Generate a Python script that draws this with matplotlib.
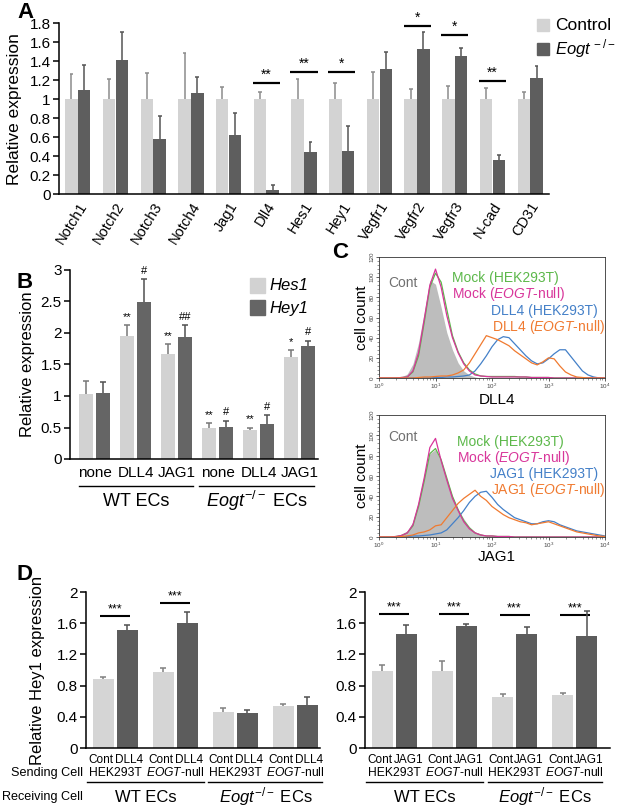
import numpy as np
import matplotlib
matplotlib.use('Agg')
import matplotlib.pyplot as plt
from matplotlib.transforms import blended_transform_factory as btf
from matplotlib.ticker import FuncFormatter, LogLocator, NullFormatter, FixedLocator

plt.rcParams['font.family'] = ['Liberation Sans', 'DejaVu Sans']
plt.rcParams['mathtext.fontset'] = 'custom'
plt.rcParams['mathtext.rm'] = 'Liberation Sans'
plt.rcParams['mathtext.it'] = 'Liberation Sans:italic'
plt.rcParams['mathtext.bf'] = 'Liberation Sans:bold'

# ---------------- Panel A data ----------------
genes = ['Notch1', 'Notch2', 'Notch3', 'Notch4', 'Jag1', 'Dll4', 'Hes1', 'Hey1',
         'Vegfr1', 'Vegfr2', 'Vegfr3', 'N-cad', 'CD31']
ctrl_vals = [1, 1, 1, 1, 1, 1, 1, 1, 1, 1, 1, 1, 1]
ctrl_err = [0.27, 0.21, 0.28, 0.49, 0.13, 0.08, 0.21, 0.17, 0.29, 0.11, 0.14, 0.12, 0.08]
eogt_vals = [1.10, 1.41, 0.58, 1.06, 0.62, 0.04, 0.44, 0.45, 1.32, 1.53, 1.46, 0.36, 1.22]
eogt_err = [0.26, 0.30, 0.24, 0.17, 0.23, 0.055, 0.11, 0.27, 0.18, 0.18, 0.08, 0.05, 0.13]
sigA_idx = [5, 6, 7, 9, 10, 11]
sigA_lab = ['**', '**', '*', '*', '*', '**']
sigA_h = [1.17, 1.29, 1.29, 1.77, 1.68, 1.19]

# ---------------- Panel B data ----------------
B_groups = ['none', 'DLL4', 'JAG1', 'none', 'DLL4', 'JAG1']
hes1_vals = [1.03, 1.95, 1.66, 0.50, 0.455, 1.62]
hes1_err = [0.21, 0.17, 0.16, 0.07, 0.045, 0.11]
hey1_vals = [1.04, 2.49, 1.93, 0.51, 0.55, 1.80]
hey1_err = [0.19, 0.37, 0.19, 0.10, 0.15, 0.08]
hes1_sig = ['', '**', '**', '**', '**', '*']
hey1_sig = ['', '#', '##', '#', '#', '#']

# ---------------- Panel C data (flow histograms, log10 channel bins) ----------------
bin_log10 = np.round(np.arange(0.0, 4.01, 0.1), 1)
dll4_cont = [0, 0, 0, 0.5, 1, 4, 14, 35, 65, 97, 93, 70, 45, 28, 15, 7, 3, 1, 0, 0,
             0, 0, 0, 0, 0, 0, 0, 0, 0, 0, 0, 0, 0, 0, 0, 0, 0, 0, 0, 0, 0]
dll4_mock_hek = [0, 0, 0, 0, 0.5, 1, 6, 22, 55, 90, 104, 95, 68, 42, 26, 15, 8, 4, 2, 1.5,
                 1.5, 1.5, 1.5, 1.5, 1.5, 1, 1, 0.5, 0.5, 0.5, 0.5, 0, 0, 0, 0, 0, 0, 0, 0, 0, 0]
dll4_mock_null = [0, 0, 0, 0, 0.5, 1, 7, 25, 58, 92, 108, 90, 62, 40, 25, 14, 7, 3, 2, 1.5,
                  1, 1, 1, 1, 1, 1, 1, 0.5, 0.5, 0.5, 0.5, 0, 0, 0, 0, 0, 0, 0, 0, 0, 0]
dll4_lig_hek = [0, 0, 0, 0, 0, 0, 0, 0, 0, 0, 0.5, 0.5, 1, 1, 1.5, 2, 3, 7, 14, 22,
                31, 38, 41, 40, 34, 28, 22, 17, 14, 15, 19, 24, 28, 28, 21, 14, 7, 3, 1, 0, 0]
dll4_lig_null = [0, 0, 0, 0, 0, 0, 0, 0.5, 1, 1, 1.5, 2, 2, 3, 5, 8, 15, 24, 33, 42,
                 40, 38, 35, 32, 27, 23, 19, 15, 13, 16, 20, 19, 12, 6, 3, 1, 0.5, 0, 0, 0, 0]
jag1_cont = [0, 0, 0, 1, 3, 6, 15, 35, 62, 82, 86, 74, 57, 40, 27, 18, 10, 5, 3, 1.5,
             1, 0.5, 0, 0, 0, 0, 0, 0, 0, 0, 0, 0, 0, 0, 0, 0, 0, 0, 0, 0, 0]
jag1_mock_hek = [0, 0, 0, 0.5, 1.5, 4, 11, 30, 55, 82, 87, 76, 58, 40, 27, 16, 9, 4, 2, 1,
                 1, 0.5, 0.5, 0.5, 0, 0, 0, 0, 0, 0, 0, 0, 0, 0, 0, 0, 0, 0, 0, 0, 0]
jag1_mock_null = [0, 0, 0, 0.5, 1.5, 4, 12, 32, 58, 88, 97, 75, 56, 38, 26, 15, 8, 4, 2, 1,
                  1, 0.5, 0.5, 0.5, 0, 0, 0, 0, 0, 0, 0, 0, 0, 0, 0, 0, 0, 0, 0, 0, 0]
jag1_lig_hek = [0, 0, 0, 0, 0, 0.5, 1, 1, 1.5, 2, 3, 4, 7, 13, 19, 26, 34, 40, 44, 45,
                39, 32, 27, 23, 19, 17, 15, 13, 13, 15, 16, 15, 12, 10, 8, 6, 5, 4, 3, 2, 1]
jag1_lig_null = [0, 0, 0, 0, 0.5, 1, 2, 4, 5, 7, 11, 12, 19, 26, 33, 38, 42, 46, 40, 36,
                 30, 26, 22, 19, 17, 15, 14, 12, 13, 14, 15, 13, 11, 9, 7, 5, 4, 3, 2, 1, 0.5]

# ---------------- Panel D data ----------------
D_send = ['HEK293T', r'$\mathit{EOGT}$-null', 'HEK293T', r'$\mathit{EOGT}$-null']
D_recv = ['WT ECs', r'$\mathit{Eogt}^{-/-}$ ECs']
dl_cont_vals = [0.89, 0.98, 0.465, 0.535]
dl_cont_err = [0.02, 0.05, 0.05, 0.025]
dl_lig_vals = [1.515, 1.605, 0.45, 0.545]
dl_lig_err = [0.06, 0.145, 0.035, 0.105]
dl_sig_h = [1.69, 1.86]
jg_cont_vals = [0.99, 0.99, 0.65, 0.68]
jg_cont_err = [0.08, 0.125, 0.04, 0.03]
jg_lig_vals = [1.46, 1.56, 1.465, 1.44]
jg_lig_err = [0.115, 0.03, 0.09, 0.32]
jg_sig_h = [1.72, 1.72, 1.70, 1.70]

# ---------------- figure ----------------
W, H = 617, 811
fig = plt.figure(figsize=(W / 100, H / 100), dpi=100)


def add_ax(x0, y0, x1, y1):
    return fig.add_axes([x0 / W, 1 - y1 / H, (x1 - x0) / W, (y1 - y0) / H])


def fx(px):
    return px / W


def fy(py):
    return 1 - py / H


fmt_g = FuncFormatter(lambda v, p: '%g' % round(v, 2))


def style_bar_axes(ax, fs):
    for s in ['top', 'right']:
        ax.spines[s].set_visible(False)
    for s in ['left', 'bottom']:
        ax.spines[s].set_linewidth(1.1)
    ax.tick_params(axis='y', direction='out', length=4, width=1.1, labelsize=fs, pad=2)
    ax.tick_params(axis='x', length=0)
    ax.yaxis.set_major_formatter(fmt_g)


def bars_with_err(ax, x, vals, errs, width, color, ecolor, capw):
    x = np.asarray(x, dtype=float)
    vals = np.asarray(vals, dtype=float)
    tops = vals + np.asarray(errs, dtype=float)
    ax.vlines(x, vals, tops, color=ecolor, lw=1.1, zorder=3)
    ax.hlines(tops, x - capw, x + capw, color=ecolor, lw=1.1, zorder=3)
    ax.bar(x, vals, width, color=color, edgecolor='none', zorder=2)


# ===== Panel A =====
axA = add_ax(59, 23.3, 549, 194)
xA = np.arange(len(genes))
bars_with_err(axA, xA - 0.17, ctrl_vals, ctrl_err, 0.33, '#d3d3d3', '#8c8c8c', 0.05)
bars_with_err(axA, xA + 0.17, eogt_vals, eogt_err, 0.33, '#5e5e5e', '#555555', 0.05)
axA.set_xlim(-0.5, len(genes) - 0.5)
axA.set_ylim(0, 1.8)
axA.set_yticks(np.arange(0, 1.81, 0.2))
style_bar_axes(axA, 11)
axA.set_xticks(xA)
axA.set_xticklabels(genes, rotation=58, ha='right', rotation_mode='anchor', fontsize=10.5)
axA.tick_params(axis='x', pad=4)
axA.set_ylabel('Relative expression', fontsize=12.5)
axA.yaxis.set_label_coords((22 - 59) / 490, 0.5)
for i, lab, h in zip(sigA_idx, sigA_lab, sigA_h):
    axA.hlines(h, i - 0.36, i + 0.36, color='black', lw=1.6)
    axA.text(i, h + 0.01, lab, ha='center', va='bottom', fontsize=10)

# legend A
fig.patches.append(plt.Rectangle((fx(537), fy(31)), 12 / W, 12 / H, transform=fig.transFigure,
                                 color='#d3d3d3', figure=fig))
fig.patches.append(plt.Rectangle((fx(537), fy(55)), 12 / W, 12 / H, transform=fig.transFigure,
                                 color='#5e5e5e', figure=fig))
fig.text(fx(555), fy(25), 'Control', fontsize=12.5, va='center', ha='left')
fig.text(fx(555), fy(49), r'$\mathit{Eogt}^{\,-/-}$', fontsize=12, va='center', ha='left')

# ===== Panel B =====
axB = add_ax(70, 270, 318, 459)
xB = np.arange(len(B_groups))
bars_with_err(axB, xB - 0.207, hes1_vals, hes1_err, 0.34, '#d2d2d2', '#777777', 0.07)
bars_with_err(axB, xB + 0.207, hey1_vals, hey1_err, 0.34, '#656565', '#505050', 0.07)
axB.set_xlim(-0.6, 5.45)
axB.set_ylim(0, 3)
axB.set_yticks(np.arange(0, 3.01, 0.5))
style_bar_axes(axB, 11)
axB.set_xticks([])
axB.set_ylabel('Relative expression', fontsize=12)
axB.yaxis.set_label_coords((35 - 70) / 248, 0.5)
for i in range(len(B_groups)):
    if hes1_sig[i]:
        axB.text(xB[i] - 0.207, hes1_vals[i] + hes1_err[i] + 0.05, hes1_sig[i],
                 ha='center', va='bottom', fontsize=8)
    if hey1_sig[i]:
        axB.text(xB[i] + 0.207, hey1_vals[i] + hey1_err[i] + 0.05, hey1_sig[i],
                 ha='center', va='bottom', fontsize=8)
tB = btf(axB.transData, fig.transFigure)
for i, g in enumerate(B_groups):
    axB.text(xB[i], fy(473), g, transform=tB, ha='center', va='center', fontsize=11, clip_on=False)
for (a, b), lab in zip([(-0.38, 2.4), (2.55, 5.35)], ['WT ECs', r'$\mathit{Eogt}^{-/-}$ ECs']):
    axB.plot([a, b], [fy(486), fy(486)], transform=tB, color='black', lw=1, clip_on=False)
    axB.text((a + b) / 2, fy(501), lab, transform=tB, ha='center', va='center', fontsize=13,
             clip_on=False)
# legend B
for yy, col, lab in [(286, '#d2d2d2', 'Hes1'), (308, '#656565', 'Hey1')]:
    fig.patches.append(plt.Rectangle((fx(250), fy(yy + 7.5)), 15 / W, 15 / H,
                                     transform=fig.transFigure, color=col, figure=fig))
    fig.text(fx(269), fy(yy), lab, fontsize=12, style='italic', va='center', ha='left')

# ===== Panel C =====
xC = 10 ** bin_log10
c_gray = '#bdbdbd'
c_green = '#5cb84a'
c_mag = '#d8359a'
c_blue = '#4480c8'
c_orange = '#f07a30'


def flow_axes(ax, cont, mh, mn, lh, ln):
    ax.fill_between(xC, cont, 0, color=c_gray, lw=0, zorder=1)
    ax.plot(xC, mh, color=c_green, lw=0.9, zorder=3)
    ax.plot(xC, mn, color=c_mag, lw=0.9, zorder=4)
    ax.plot(xC, lh, color=c_blue, lw=0.9, zorder=3)
    ax.plot(xC, ln, color=c_orange, lw=0.9, zorder=4)
    ax.set_xscale('log')
    ax.set_xlim(1, 1e4)
    ax.set_ylim(0, 120)
    ax.set_yticks(np.arange(0, 121, 20))
    for t in ax.get_yticklabels():
        t.set_rotation(90)
        t.set_va('center')
    ax.tick_params(axis='both', which='major', direction='out', length=2, width=0.6,
                   labelsize=4.5, pad=1, colors='#444444')
    ax.tick_params(axis='both', which='minor', direction='out', length=1.2, width=0.4,
                   colors='#444444')
    ax.xaxis.set_major_locator(LogLocator(base=10, numticks=10))
    ax.xaxis.set_minor_locator(LogLocator(base=10, subs=np.arange(2, 10), numticks=10))
    ax.xaxis.set_minor_formatter(NullFormatter())
    ax.yaxis.set_minor_locator(FixedLocator(np.arange(0, 121, 4)))
    for s in ax.spines.values():
        s.set_linewidth(0.6)
        s.set_color('#333333')


axC1 = add_ax(379, 257, 605, 378)
flow_axes(axC1, dll4_cont, dll4_mock_hek, dll4_mock_null, dll4_lig_hek, dll4_lig_null)
axC2 = add_ax(379, 415, 605, 537)
flow_axes(axC2, jag1_cont, jag1_mock_hek, jag1_mock_null, jag1_lig_hek, jag1_lig_null)
for lab, yy in [('DLL4', 400), ('JAG1', 557)]:
    fig.text(fx(497), fy(yy), lab, fontsize=11, ha='center', va='center')
for yy in [318, 476]:
    fig.text(fx(362), fy(yy), 'cell count', fontsize=11, rotation=90, ha='center', va='center')

cleg_top = [('Cont', '#707070', 388, 283, 'left'),
            ('Mock (HEK293T)', c_green, 452, 278, 'left'),
            (r'Mock ($\mathit{EOGT}$-null)', c_mag, 452, 294, 'left'),
            ('DLL4 (HEK293T)', c_blue, 598, 311, 'right'),
            (r'DLL4 ($\mathit{EOGT}$-null)', c_orange, 605, 327, 'right')]
cleg_bot = [('Cont', '#707070', 388, 437, 'left'),
            ('Mock (HEK293T)', c_green, 457, 442, 'left'),
            (r'Mock ($\mathit{EOGT}$-null)', c_mag, 457, 458, 'left'),
            ('JAG1 (HEK293T)', c_blue, 598, 474, 'right'),
            (r'JAG1 ($\mathit{EOGT}$-null)', c_orange, 605, 490, 'right')]
for lab, col, xx, yy, ha in cleg_top + cleg_bot:
    fig.text(fx(xx), fy(yy), lab, color=col, fontsize=10, ha=ha, va='center')

# ===== Panel D =====
def panel_d(ax, xlim, cont_v, cont_e, lig_v, lig_e, lig_name, sig_h, show_label):
    xD = np.arange(len(cont_v))
    bars_with_err(ax, xD - 0.2, cont_v, cont_e, 0.35, '#d5d5d5', '#808080', 0.05)
    bars_with_err(ax, xD + 0.2, lig_v, lig_e, 0.35, '#5c5c5c', '#505050', 0.05)
    ax.set_xlim(*xlim)
    ax.set_ylim(0, 2)
    ax.set_yticks([0, 0.4, 0.8, 1.2, 1.6, 2.0])
    style_bar_axes(ax, 11)
    ax.set_xticks([])
    for i, h in enumerate(sig_h):
        ax.hlines(h, i - 0.25, i + 0.25, color='black', lw=1.5)
        ax.text(i, h + 0.01, '***', ha='center', va='bottom', fontsize=9)
    t = btf(ax.transData, fig.transFigure)
    for i in range(len(cont_v)):
        ax.text(i - 0.235, fy(760), 'Cont', transform=t, ha='center', va='center', fontsize=8.5,
                clip_on=False)
        ax.text(i + 0.235, fy(760), lig_name, transform=t, ha='center', va='center', fontsize=8.5,
                clip_on=False)
        ax.text(i, fy(773), D_send[i], transform=t, ha='center', va='center', fontsize=8.7,
                clip_on=False)
    for (a, b), lab in zip([(-0.47, 1.48), (1.55, 3.45)], D_recv):
        ax.plot([a, b], [fy(782), fy(782)], transform=t, color='black', lw=1, clip_on=False)
        ax.text((a + b) / 2, fy(797), lab, transform=t, ha='center', va='center', fontsize=12,
                clip_on=False)
    if show_label:
        ax.set_ylabel('Relative Hey1 expression', fontsize=12)


axD1 = add_ax(86, 592, 320, 748)
panel_d(axD1, (-0.49, 3.41), dl_cont_vals, dl_cont_err, dl_lig_vals, dl_lig_err, 'DLL4',
        dl_sig_h, True)
axD1.yaxis.set_label_coords((45 - 86) / 234, 0.5)
axD2 = add_ax(365, 592, 610, 748)
panel_d(axD2, (-0.49, 3.59), jg_cont_vals, jg_cont_err, jg_lig_vals, jg_lig_err, 'JAG1',
        jg_sig_h, False)
fig.text(fx(83), fy(773), 'Sending Cell', fontsize=9.1, ha='right', va='center')
fig.text(fx(83), fy(797), 'Receiving Cell', fontsize=9.1, ha='right', va='center')

# panel letters
for lab, xx, yy in [('A', 25, 13), ('B', 25, 283), ('C', 340, 253), ('D', 25, 575)]:
    fig.text(fx(xx), fy(yy), lab, fontsize=16, fontweight='bold', ha='center', va='center')

fig.savefig('out.png', dpi=100)
